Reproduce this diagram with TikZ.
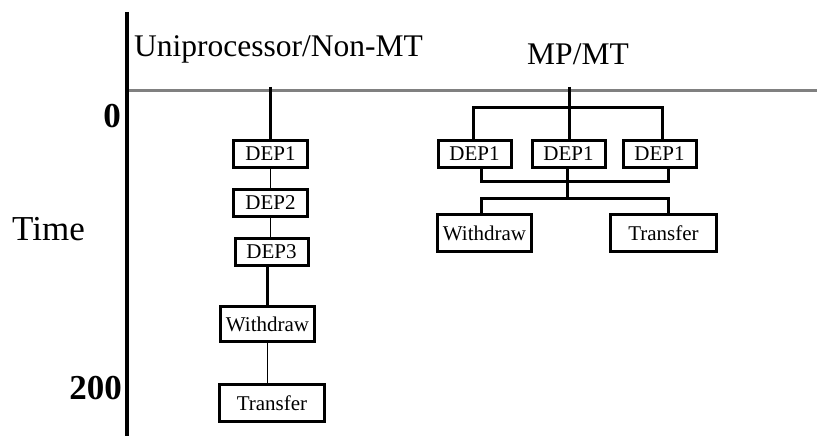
\documentclass[tikz,border=0pt]{standalone}
\usepackage{fontspec}
\setmainfont{Liberation Serif}
\begin{document}
\begin{tikzpicture}[x=1pt,y=-1pt,
  taskbox/.style={draw, line width=3pt, inner sep=0pt, font=\fontsize{21}{21}\selectfont},
  heavy/.style={line width=3pt},
  light/.style={line width=1.2pt},
  heading/.style={inner sep=0pt, font=\fontsize{31.5}{31.5}\selectfont},
  ticklabel/.style={inner sep=0pt, font=\fontsize{35}{35}\selectfont\bfseries}]
\useasboundingbox (0,0) rectangle (817,436);

% axes
\coordinate (axtop) at (127,12);
\coordinate (axbot) at (127,436);
\coordinate (hl) at (127,91);
\coordinate (hr) at (817,91);
\draw[line width=3pt, gray] (hl) -- (hr);
\draw[line width=3.2pt] (axtop) -- (axbot);

% headings and axis labels
\node[heading, anchor=base west] (uni) at (134,57) {Uniprocessor/Non-MT};
\node[heading, anchor=base] (mp) at (578,65) {MP/MT};
\node[ticklabel, anchor=base] (zero) at (112,128) {0};
\node[ticklabel, anchor=base east] (two) at (122,399) {200};
\node[heading, font=\fontsize{35}{35}\selectfont, anchor=base west] (time) at (12,240) {Time};

% sequential execution
\node[taskbox, minimum width=74, minimum height=27] (L1) at (270.5,154) {DEP1};
\node[taskbox, minimum width=74, minimum height=27] (L2) at (270.5,202.5) {DEP2};
\node[taskbox, minimum width=73, minimum height=27] (L3) at (271.5,251.5) {DEP3};
\node[taskbox, minimum width=94, minimum height=35] (L4) at (267.5,324) {Withdraw};
\node[taskbox, minimum width=105, minimum height=37] (L5) at (272,403) {Transfer};
\coordinate (Lstart) at (270,87);
\draw[heavy] (Lstart) -- (Lstart |- L1.north);
\draw[light] (L1.south) -- (L1.south |- L2.north);
\draw[light] (L2.south) -- (L2.south |- L3.north);
\draw[heavy] (267,266) -- (267,305);
\draw[light] (L4.south) -- (L4.south |- L5.north);

% parallel execution
\node[taskbox, minimum width=73, minimum height=27] (R1) at (474.5,154) {DEP1};
\node[taskbox, minimum width=73, minimum height=27] (R2) at (568.5,154) {DEP1};
\node[taskbox, minimum width=73, minimum height=27] (R3) at (659.5,154) {DEP1};
\node[taskbox, minimum width=94, minimum height=37] (RW) at (484.5,233) {Withdraw};
\node[taskbox, minimum width=106, minimum height=37] (RT) at (663.5,233) {Transfer};

\coordinate (Rstart) at (569,87);
\coordinate (fork) at (569,107);
\coordinate (joinL) at (481,181);
\coordinate (joinR) at (668,181);
\coordinate (fork2) at (567,198);
\draw[heavy] (Rstart) -- (Rstart |- R2.north);
\draw[heavy] (473,139) -- (473,107) -- (662,107) -- (662,139);
\draw[heavy] (481,169) -- (joinL) -- (joinR) -- (668,169);
\draw[heavy] (567,169) -- (fork2);
\draw[heavy] (481,213) -- (481,198) -- (668,198) -- (668,213);
\end{tikzpicture}
\end{document}
